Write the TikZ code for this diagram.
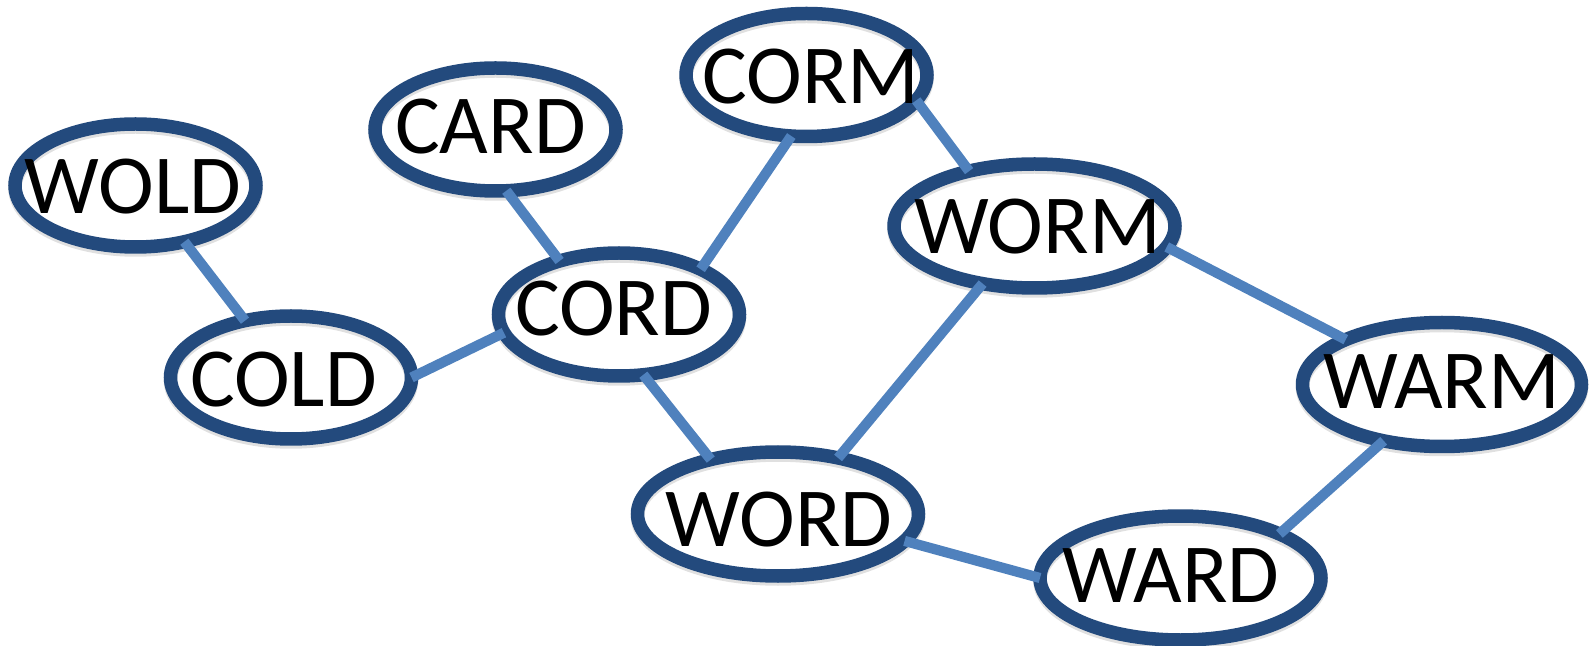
\documentclass[tikz,border=0pt]{standalone}
\usepackage{fontspec}
\setmainfont{Carlito}
\usetikzlibrary{shapes.geometric}
\definecolor{ringblue}{RGB}{35,74,125}
\definecolor{linkblue}{RGB}{79,129,189}
\begin{document}
\begin{tikzpicture}[x=0.5pt,y=-0.5pt,
  word/.style={ellipse, draw=ringblue, line width=6.75pt, inner sep=0pt, outer sep=0pt,
    preaction={draw=black, draw opacity=0.12, transform canvas={yshift=-1.5pt}}},
  small/.style={word, minimum width=120.5pt, minimum height=61.5pt},
  large/.style={word, minimum width=140.5pt, minimum height=62pt},
  tag/.style={font=\fontsize{42}{42}\selectfont, text=black, inner sep=0pt},
  link/.style={draw=linkblue, line width=5.1pt}]
\useasboundingbox (0,0) rectangle (1590,646);

% word rings
\node[small] (wold) at (135.5,185.5) {};
\node[small] (cold) at (291,377.5) {};
\node[small] (card) at (495.5,129.5) {};
\node[small] (cord) at (619,314.5) {};
\node[small] (corm) at (806.5,75) {};
\node[large] (worm) at (1034.5,226) {};
\node[large] (word) at (778,514) {};
\node[large] (ward) at (1180.5,578) {};
\node[large, minimum width=139.5pt] (warm) at (1442,384.5) {};

% one-letter changes
\draw[link] (wold.-49.5) -- (cold.129.6);
\draw[link] (card.-80.4) -- (cord.138.2);
\draw[link] (cold.0) -- (cord.189.6);
\draw[link] (cord.29.6) -- (corm.-104.6);
\draw[link] (corm.-13) -- (worm.140);
\draw[link] (worm.-9.5) -- (warm.155.3);
\draw[link] (warm.-136.5) -- (ward.24.6);
\draw[link] (word.-12.8) -- (ward.180);
\draw[link] (cord.-68) -- (word.141.9);
\draw[link] (word.43) -- (worm.-132.9);

% words
\node[tag, xshift=-1.25pt, yshift=-0.5pt] (wold-t) at (wold) {WOLD};
\node[tag, xshift=-3.75pt, yshift=-1.25pt] (cold-t) at (cold) {COLD};
\node[tag, xshift=-2.5pt, yshift=1.25pt] (card-t) at (card) {CARD};
\node[tag, xshift=-2.75pt, yshift=3pt] (cord-t) at (cord) {CORD};
\node[tag, xshift=2.25pt, yshift=-0.75pt] (corm-t) at (corm) {CORM};
\node[tag, xshift=1.5pt, yshift=-0.25pt] (worm-t) at (worm) {WORM};
\node[tag, xshift=0.5pt, yshift=-3pt] (word-t) at (word) {WORD};
\node[tag, xshift=-4.75pt, yshift=1.25pt] (ward-t) at (ward) {WARD};
\node[tag, xshift=-0.25pt, yshift=1.25pt] (warm-t) at (warm) {WARM};
\end{tikzpicture}
\end{document}
